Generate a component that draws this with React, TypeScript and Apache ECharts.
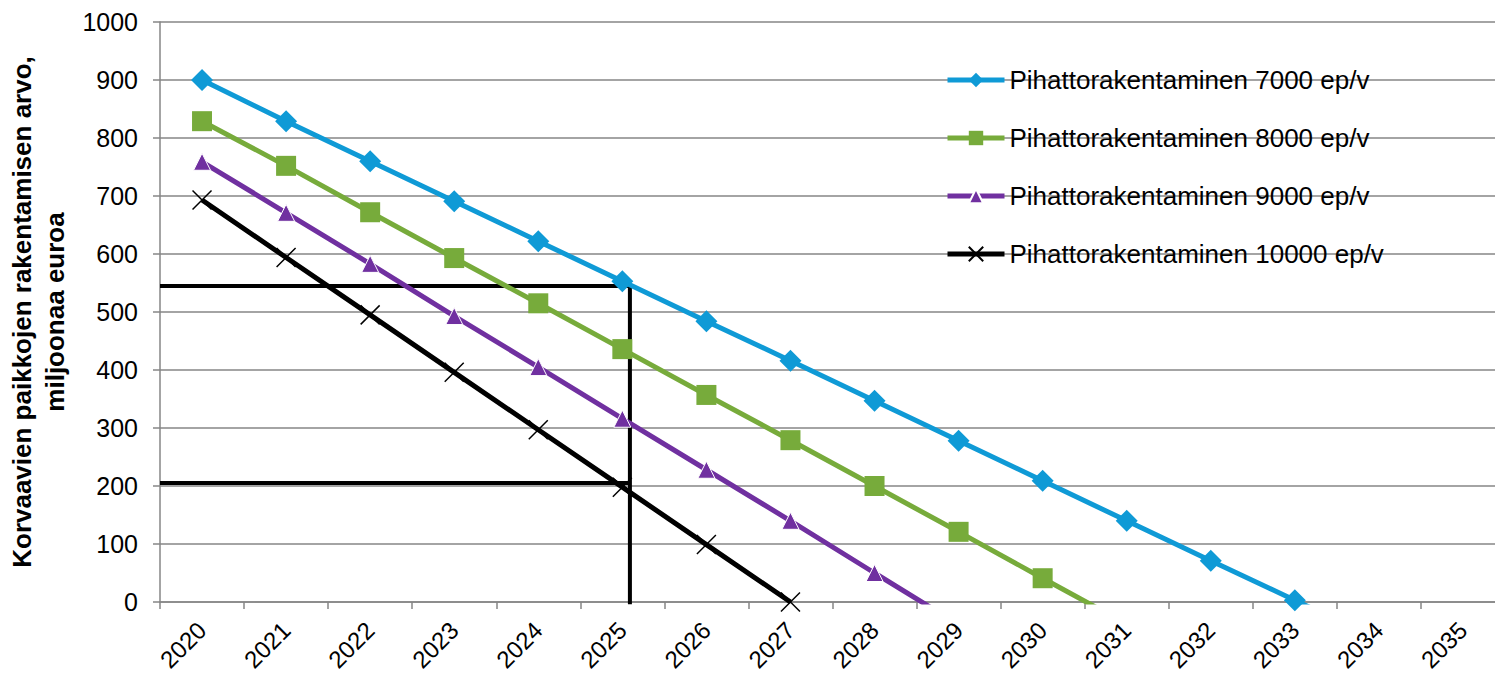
import React, { useEffect, useRef } from "react";
import * as echarts from "echarts";

const years = ["2020","2021","2022","2023","2024","2025","2026","2027","2028","2029","2030","2031","2032","2033","2034","2035"];
const s7000 = [900, 829, 760, 691, 622, 553, 484, 416, 347, 278, 209, 140, 71, 3, -66];
const s8000 = [829, 752, 672, 593, 515, 436, 357, 279, 200, 121, 41, -38];
const s9000 = [759, 671, 583, 493, 405, 316, 228, 140, 50, -39];
const s10000 = [693, 594, 495, 396, 297, 198, 99, 0];
const names = [
  "Pihattorakentaminen 7000 ep/v",
  "Pihattorakentaminen 8000 ep/v",
  "Pihattorakentaminen 9000 ep/v",
  "Pihattorakentaminen 10000 ep/v",
];
const colors = ["#0f9ad6", "#77ab3b", "#7030a0", "#000000"];
// annotation guide lines (x in category index units, y in value)
const guideUpper = [[-0.5, 545], [5.09, 545], [5.09, -4]];
const guideLower = [[-0.5, 205], [5.09, 205]];

const FONT = "'Liberation Sans', Arial, sans-serif";

export default function App() {
  const ref = useRef<HTMLDivElement>(null);
  useEffect(() => {
    document.body.style.margin = "0";
    const chart = echarts.init(ref.current!, null, { renderer: "svg" });
    const lineW = 5;
    chart.setOption({
      animation: false,
      textStyle: { fontFamily: FONT },
      grid: { left: 160, top: 22, width: 1345, height: 580, containLabel: false, outerBoundsMode: "none" },
      legend: {
        orient: "vertical",
        left: 945,
        top: 67,
        itemWidth: 57,
        itemHeight: 18,
        itemGap: 32,
        itemTextGap: 4,
        padding: 0,
        data: names,
        lineStyle: { width: 5 },
        textStyle: { fontSize: 26, color: "#000", fontFamily: FONT },
      },
      xAxis: [
        {
          type: "category",
          data: years,
          boundaryGap: true,
          axisLine: { onZero: false, lineStyle: { color: "#868686", width: 1.5 } },
          axisTick: { show: true, length: 7, lineStyle: { color: "#868686", width: 1.5 } },
          axisLabel: { rotate: 45, fontSize: 24, color: "#000", margin: 24, fontFamily: FONT, interval: 0 },
          splitLine: { show: false },
        },
        {
          type: "value",
          min: -0.5,
          max: 15.5,
          show: false,
        },
      ],
      yAxis: {
        type: "value",
        min: 0,
        max: 1000,
        interval: 100,
        name: "Korvaavien paikkojen rakentamisen arvo,\nmiljoonaa euroa",
        nameLocation: "middle",
        nameRotate: 90,
        nameGap: 86,
        nameTextStyle: { fontSize: 26, fontWeight: "bold", color: "#000", lineHeight: 33, fontFamily: FONT },
        axisLine: { show: true, onZero: false, lineStyle: { color: "#868686", width: 1.5 } },
        axisTick: { show: true, length: 7, lineStyle: { color: "#868686", width: 1.5 } },
        axisLabel: { fontSize: 25, color: "#000", margin: 22, fontFamily: FONT, formatter: (v: number) => String(v) },
        splitLine: { show: true, lineStyle: { color: "#868686", width: 1.5 } },
      },
      series: [
        {
          name: "guide1",
          type: "line",
          xAxisIndex: 1,
          data: guideUpper,
          symbol: "none",
          clip: false,
          lineStyle: { color: "#000", width: 4 },
          z: 1,
        },
        {
          name: "guide2",
          type: "line",
          xAxisIndex: 1,
          data: guideLower,
          symbol: "none",
          clip: false,
          lineStyle: { color: "#000", width: 4 },
          z: 1,
        },
        {
          name: names[0],
          type: "line",
          data: s7000,
          clip: true,
          symbol: "diamond",
          symbolSize: 22,
          color: colors[0],
          lineStyle: { color: colors[0], width: lineW },
          z: 2,
        },
        {
          name: names[1],
          type: "line",
          data: s8000,
          clip: true,
          symbol: "rect",
          symbolSize: 20,
          color: colors[1],
          lineStyle: { color: colors[1], width: lineW },
          z: 2,
        },
        {
          name: names[2],
          type: "line",
          data: s9000,
          clip: true,
          symbol: "triangle",
          symbolSize: 17,
          color: colors[2],
          itemStyle: { color: colors[2], borderColor: "#fff", borderWidth: 1 },
          lineStyle: { color: colors[2], width: lineW },
          z: 2,
        },
        {
          name: names[3],
          type: "line",
          data: s10000,
          clip: true,
          symbol: "path://M0,0L10,10M10,0L0,10",
          symbolSize: 19,
          color: colors[3],
          itemStyle: { color: "#000", borderColor: "#000", borderWidth: 1.5 },
          lineStyle: { color: colors[3], width: lineW },
          z: 2,
        },
      ],
    });
    return () => chart.dispose();
  }, []);
  return <div ref={ref} style={{ width: 1495, height: 676, position: "absolute", left: 0, top: 0 }} />;
}
